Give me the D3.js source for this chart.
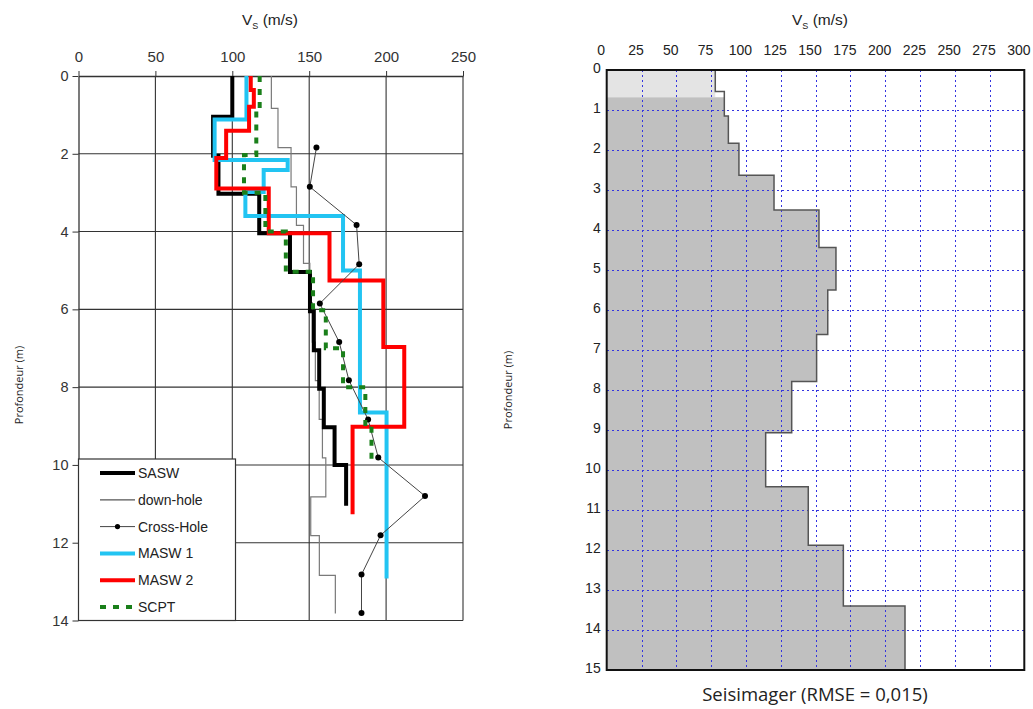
<!DOCTYPE html>
<html>
<head>
<meta charset="utf-8">
<script src="https://d3js.org/d3.v7.min.js"></script>
<style>
  html, body { margin: 0; padding: 0; background: #fff; }
  svg { display: block; }
</style>
</head>
<body>
<svg id="chart" width="1033" height="709"></svg>
<script>
// ---------------- DATA ----------------
// Left panel: layer boundaries (depth, m) and velocities (m/s)
const leftXTicks = [0, 50, 100, 150, 200, 250];
const leftYTicks = [0, 2, 4, 6, 8, 10, 12, 14];

const saswDepth = [0, 1.05, 2.05, 3.03, 4.04, 5.04, 6.05, 7.05, 8.04, 9.03, 10.0, 11.05];
const saswVs    = [100, 87.5, 91, 117.5, 137.5, 150.5, 153, 156.5, 159.5, 166.5, 174];

const downholeDepth = [0, 0.83, 1.84, 2.85, 3.84, 4.82, 5.83, 6.84, 7.83, 8.83, 9.82, 10.82, 11.82, 12.84, 13.82];
const downholeVs    = [125.4, 129.7, 138.2, 141.7, 146.3, 150.4, 152, 154, 156.5, 158.6, 160.8, 151, 156.6, 167];

const crossholeDepth = [1.84, 2.85, 3.83, 4.84, 5.85, 6.84, 7.82, 8.83, 9.81, 10.8, 11.81, 12.82, 13.81];
const crossholeVs    = [154.7, 150.4, 180.8, 182.5, 156.9, 169.5, 175.8, 188.3, 194.9, 225.3, 196.4, 184, 184];

const masw1Depth = [0, 1.12, 2.16, 2.42, 2.98, 3.6, 5.0, 8.65, 12.92];
const masw1Vs    = [109.2, 88.5, 136, 120.4, 108.5, 172, 183, 200.3];

const masw2Depth = [0, 0.36, 0.79, 1.41, 2.11, 2.89, 4.04, 5.26, 6.97, 9.02, 11.27];
const masw2Vs    = [112, 114, 110.9, 96, 89.6, 123.7, 163.2, 198.2, 211.8, 178.2];

const scptDepth = [0, 0.87, 2.03, 3.0, 4.0, 5.03, 6.02, 7.0, 8.0, 9.0, 9.85];
const scptVs    = [117.8, 115.6, 107.6, 121.5, 134.8, 152.5, 160.8, 172, 186.5, 190.5];

const legendLabels = ["SASW", "down-hole", "Cross-Hole", "MASW 1", "MASW 2", "SCPT"];

// Right panel (Seisimager)
const rightXTicks = [0, 25, 50, 75, 100, 125, 150, 175, 200, 225, 250, 275, 300];
const rightYTicks = [0, 1, 2, 3, 4, 5, 6, 7, 8, 9, 10, 11, 12, 13, 14, 15];
const seisDepth = [0, 0.54, 1.15, 1.83, 2.63, 3.5, 4.44, 5.5, 6.61, 7.79, 9.07, 10.42, 11.88, 13.4, 15];
const seisVs    = [78, 84.5, 87.4, 95, 120.2, 152.5, 164.7, 158.8, 150.8, 132.9, 114.2, 144.8, 170, 214.3];
const seisTopLayer = 0.68;   // depth of the lighter top band
const rightTitle = "Seisimager (RMSE = 0,015)";

// ---------------- HELPERS ----------------
function stepPoints(depths, vs) {
  const pts = [];
  vs.forEach((v, i) => { pts.push([v, depths[i]]); pts.push([v, depths[i + 1]]); });
  return pts;
}

const svg = d3.select("#chart");
const armFont = "'Liberation Sans', Arial, sans-serif";
const calFont = "'Open Sans', 'Noto Sans', sans-serif";

// ================= LEFT PANEL =================
const xL = d3.scaleLinear().domain([0, 250]).range([78.5, 463]);
const yL = d3.scaleLinear().domain([0, 14]).range([76, 620.5]);

const gL = svg.append("g");

// grid
gL.selectAll("line.vgrid").data(leftXTicks.filter(d => d > 0)).join("line")
  .attr("x1", d => xL(d)).attr("x2", d => xL(d))
  .attr("y1", yL(0)).attr("y2", yL(14))
  .attr("stroke", "#333").attr("stroke-width", 1.1);
gL.selectAll("line.hgrid").data(leftYTicks.filter(d => d > 0)).join("line")
  .attr("x1", xL(0)).attr("x2", xL(250))
  .attr("y1", d => yL(d)).attr("y2", d => yL(d))
  .attr("stroke", "#333").attr("stroke-width", 1.1);

// axes
const axTop = gL.append("g").attr("transform", `translate(0,${yL(0)})`)
  .call(d3.axisTop(xL).tickValues(leftXTicks).tickSize(5).tickPadding(9).tickSizeOuter(0));
axTop.select(".domain").attr("stroke", "#333").attr("stroke-width", 1.3);
axTop.selectAll(".tick line").attr("stroke", "#333");
axTop.selectAll("text").attr("font-family", armFont).attr("font-size", 15).attr("fill", "#333");

const axLeft = gL.append("g").attr("transform", `translate(${xL(0)},0)`)
  .call(d3.axisLeft(yL).tickValues(leftYTicks).tickSize(6).tickPadding(4).tickSizeOuter(0));
axLeft.select(".domain").attr("stroke", "#333").attr("stroke-width", 1.3);
axLeft.selectAll(".tick line").attr("stroke", "#333");
axLeft.selectAll("text").attr("font-family", armFont).attr("font-size", 14.5).attr("fill", "#333");

// axis titles
const tL = gL.append("text").attr("x", 270).attr("y", 25).attr("text-anchor", "middle")
  .attr("font-family", armFont).attr("font-size", 15.5).attr("fill", "#222");
tL.append("tspan").text("V");
tL.append("tspan").attr("font-size", 9).attr("dy", 4).text("S");
tL.append("tspan").attr("dy", -4).text(" (m/s)");

gL.append("text").attr("transform", "translate(23,385) rotate(-90)")
  .attr("text-anchor", "middle").attr("font-family", calFont).attr("font-size", 11)
  .attr("fill", "#222").text("Profondeur (m)");

// series
const lineL = d3.line().x(d => xL(d[0])).y(d => yL(d[1]));

gL.append("path").datum(stepPoints(downholeDepth, downholeVs)).attr("d", lineL)
  .attr("fill", "none").attr("stroke", "#7a7a7a").attr("stroke-width", 1.2);

gL.append("path").datum(stepPoints(saswDepth, saswVs)).attr("d", lineL)
  .attr("fill", "none").attr("stroke", "#000").attr("stroke-width", 4);

gL.append("path").datum(stepPoints(masw1Depth, masw1Vs)).attr("d", lineL)
  .attr("fill", "none").attr("stroke", "#22c4f2").attr("stroke-width", 4);

gL.append("path").datum(stepPoints(masw2Depth, masw2Vs)).attr("d", lineL)
  .attr("fill", "none").attr("stroke", "#ff0000").attr("stroke-width", 4);

const chPts = crossholeVs.map((v, i) => [v, crossholeDepth[i]]);
gL.append("path").datum(chPts).attr("d", lineL)
  .attr("fill", "none").attr("stroke", "#444").attr("stroke-width", 1);
gL.selectAll("circle.ch").data(chPts).join("circle")
  .attr("cx", d => xL(d[0])).attr("cy", d => yL(d[1])).attr("r", 3).attr("fill", "#000");

gL.append("path").datum(stepPoints(scptDepth, scptVs)).attr("d", lineL)
  .attr("fill", "none").attr("stroke", "#1a7f1a").attr("stroke-width", 4)
  .attr("stroke-dasharray", "6,7");

// legend
const lg = gL.append("g");
lg.append("rect").attr("x", 78.5).attr("y", 459).attr("width", 157).attr("height", 161.5)
  .attr("fill", "#fff").attr("stroke", "#333").attr("stroke-width", 1.2);
const legendStyles = [
  {stroke: "#000", w: 4, dash: null, dot: false},
  {stroke: "#555", w: 1.2, dash: null, dot: false},
  {stroke: "#444", w: 1, dash: null, dot: true},
  {stroke: "#22c4f2", w: 4, dash: null, dot: false},
  {stroke: "#ff0000", w: 4, dash: null, dot: false},
  {stroke: "#1a7f1a", w: 4, dash: "6,7", dot: false}
];
legendLabels.forEach((lab, i) => {
  const y = 473 + i * 26.8;
  const st = legendStyles[i];
  lg.append("line").attr("x1", 100).attr("x2", 135).attr("y1", y).attr("y2", y)
    .attr("stroke", st.stroke).attr("stroke-width", st.w)
    .attr("stroke-dasharray", st.dash);
  if (st.dot) lg.append("circle").attr("cx", 117.5).attr("cy", y).attr("r", 2.6).attr("fill", "#000");
  lg.append("text").attr("x", 138).attr("y", y + 5).attr("font-family", armFont)
    .attr("font-size", 14).attr("fill", "#222").text(lab);
});

// ================= RIGHT PANEL =================
const xR = d3.scaleLinear().domain([0, 300]).range([606.7, 1024.3]);
const yR = d3.scaleLinear().domain([0, 15]).range([70, 670]);
const gR = svg.append("g");

// fills
gR.append("rect").attr("x", xR(0)).attr("y", yR(0))
  .attr("width", xR(seisVs[0]) - xR(0)).attr("height", yR(seisTopLayer) - yR(0))
  .attr("fill", "#e4e4e4");

svg.append("clipPath").attr("id", "clipDeep").append("rect")
  .attr("x", xR(0)).attr("y", yR(seisTopLayer)).attr("width", xR(300) - xR(0))
  .attr("height", yR(15) - yR(seisTopLayer));

const seisPts = stepPoints(seisDepth, seisVs);
const areaR = d3.area().x0(xR(0)).x1(d => xR(d[0])).y(d => yR(d[1]));
gR.append("path").datum(seisPts).attr("d", areaR).attr("fill", "#c0c0c0")
  .attr("clip-path", "url(#clipDeep)");

// blue dotted grid
gR.selectAll("line.vg").data(rightXTicks.filter(d => d > 0 && d < 300)).join("line")
  .attr("x1", d => Math.round(xR(d)) + 0.5).attr("x2", d => Math.round(xR(d)) + 0.5)
  .attr("y1", yR(0)).attr("y2", yR(15))
  .attr("stroke", "#3434e0").attr("stroke-width", 1).attr("stroke-dasharray", "2,3")
  .attr("shape-rendering", "crispEdges");
gR.selectAll("line.hg").data(rightYTicks.filter(d => d > 0 && d < 15)).join("line")
  .attr("x1", xR(0)).attr("x2", xR(300))
  .attr("y1", d => Math.round(yR(d)) + 0.5).attr("y2", d => Math.round(yR(d)) + 0.5)
  .attr("stroke", "#3434e0").attr("stroke-width", 1).attr("stroke-dasharray", "2,3")
  .attr("shape-rendering", "crispEdges");

// profile outline
const lineR = d3.line().x(d => xR(d[0])).y(d => yR(d[1]));
gR.append("path").datum(seisPts).attr("d", lineR).attr("fill", "none")
  .attr("stroke", "#555").attr("stroke-width", 1.5);

// frame
gR.append("rect").attr("x", xR(0)).attr("y", yR(0))
  .attr("width", xR(300) - xR(0)).attr("height", yR(15) - yR(0))
  .attr("fill", "none").attr("stroke", "#111").attr("stroke-width", 2);

// axes (labels only)
const axRT = gR.append("g").attr("transform", `translate(0,${yR(0)})`)
  .call(d3.axisTop(xR).tickValues(rightXTicks).tickSize(0).tickPadding(15));
axRT.select(".domain").remove();
axRT.selectAll("text").attr("x", -6).attr("font-family", armFont).attr("font-size", 14).attr("fill", "#222");

const axRL = gR.append("g").attr("transform", `translate(${xR(0)},0)`)
  .call(d3.axisLeft(yR).tickValues(rightYTicks).tickSize(0).tickPadding(6));
axRL.select(".domain").remove();
axRL.selectAll("text").attr("y", -2).attr("font-family", armFont).attr("font-size", 14).attr("fill", "#222");

const tR = gR.append("text").attr("x", 820).attr("y", 25).attr("text-anchor", "middle")
  .attr("font-family", armFont).attr("font-size", 15.5).attr("fill", "#222");
tR.append("tspan").text("V");
tR.append("tspan").attr("font-size", 9).attr("dy", 4).text("S");
tR.append("tspan").attr("dy", -4).text(" (m/s)");

gR.append("text").attr("transform", "translate(512,390) rotate(-90)")
  .attr("text-anchor", "middle").attr("font-family", calFont).attr("font-size", 11)
  .attr("fill", "#222").text("Profondeur (m)");

gR.append("text").attr("x", 815).attr("y", 701).attr("text-anchor", "middle")
  .attr("font-family", calFont).attr("font-size", 18.5).attr("fill", "#222").text(rightTitle);
</script>
</body>
</html>
